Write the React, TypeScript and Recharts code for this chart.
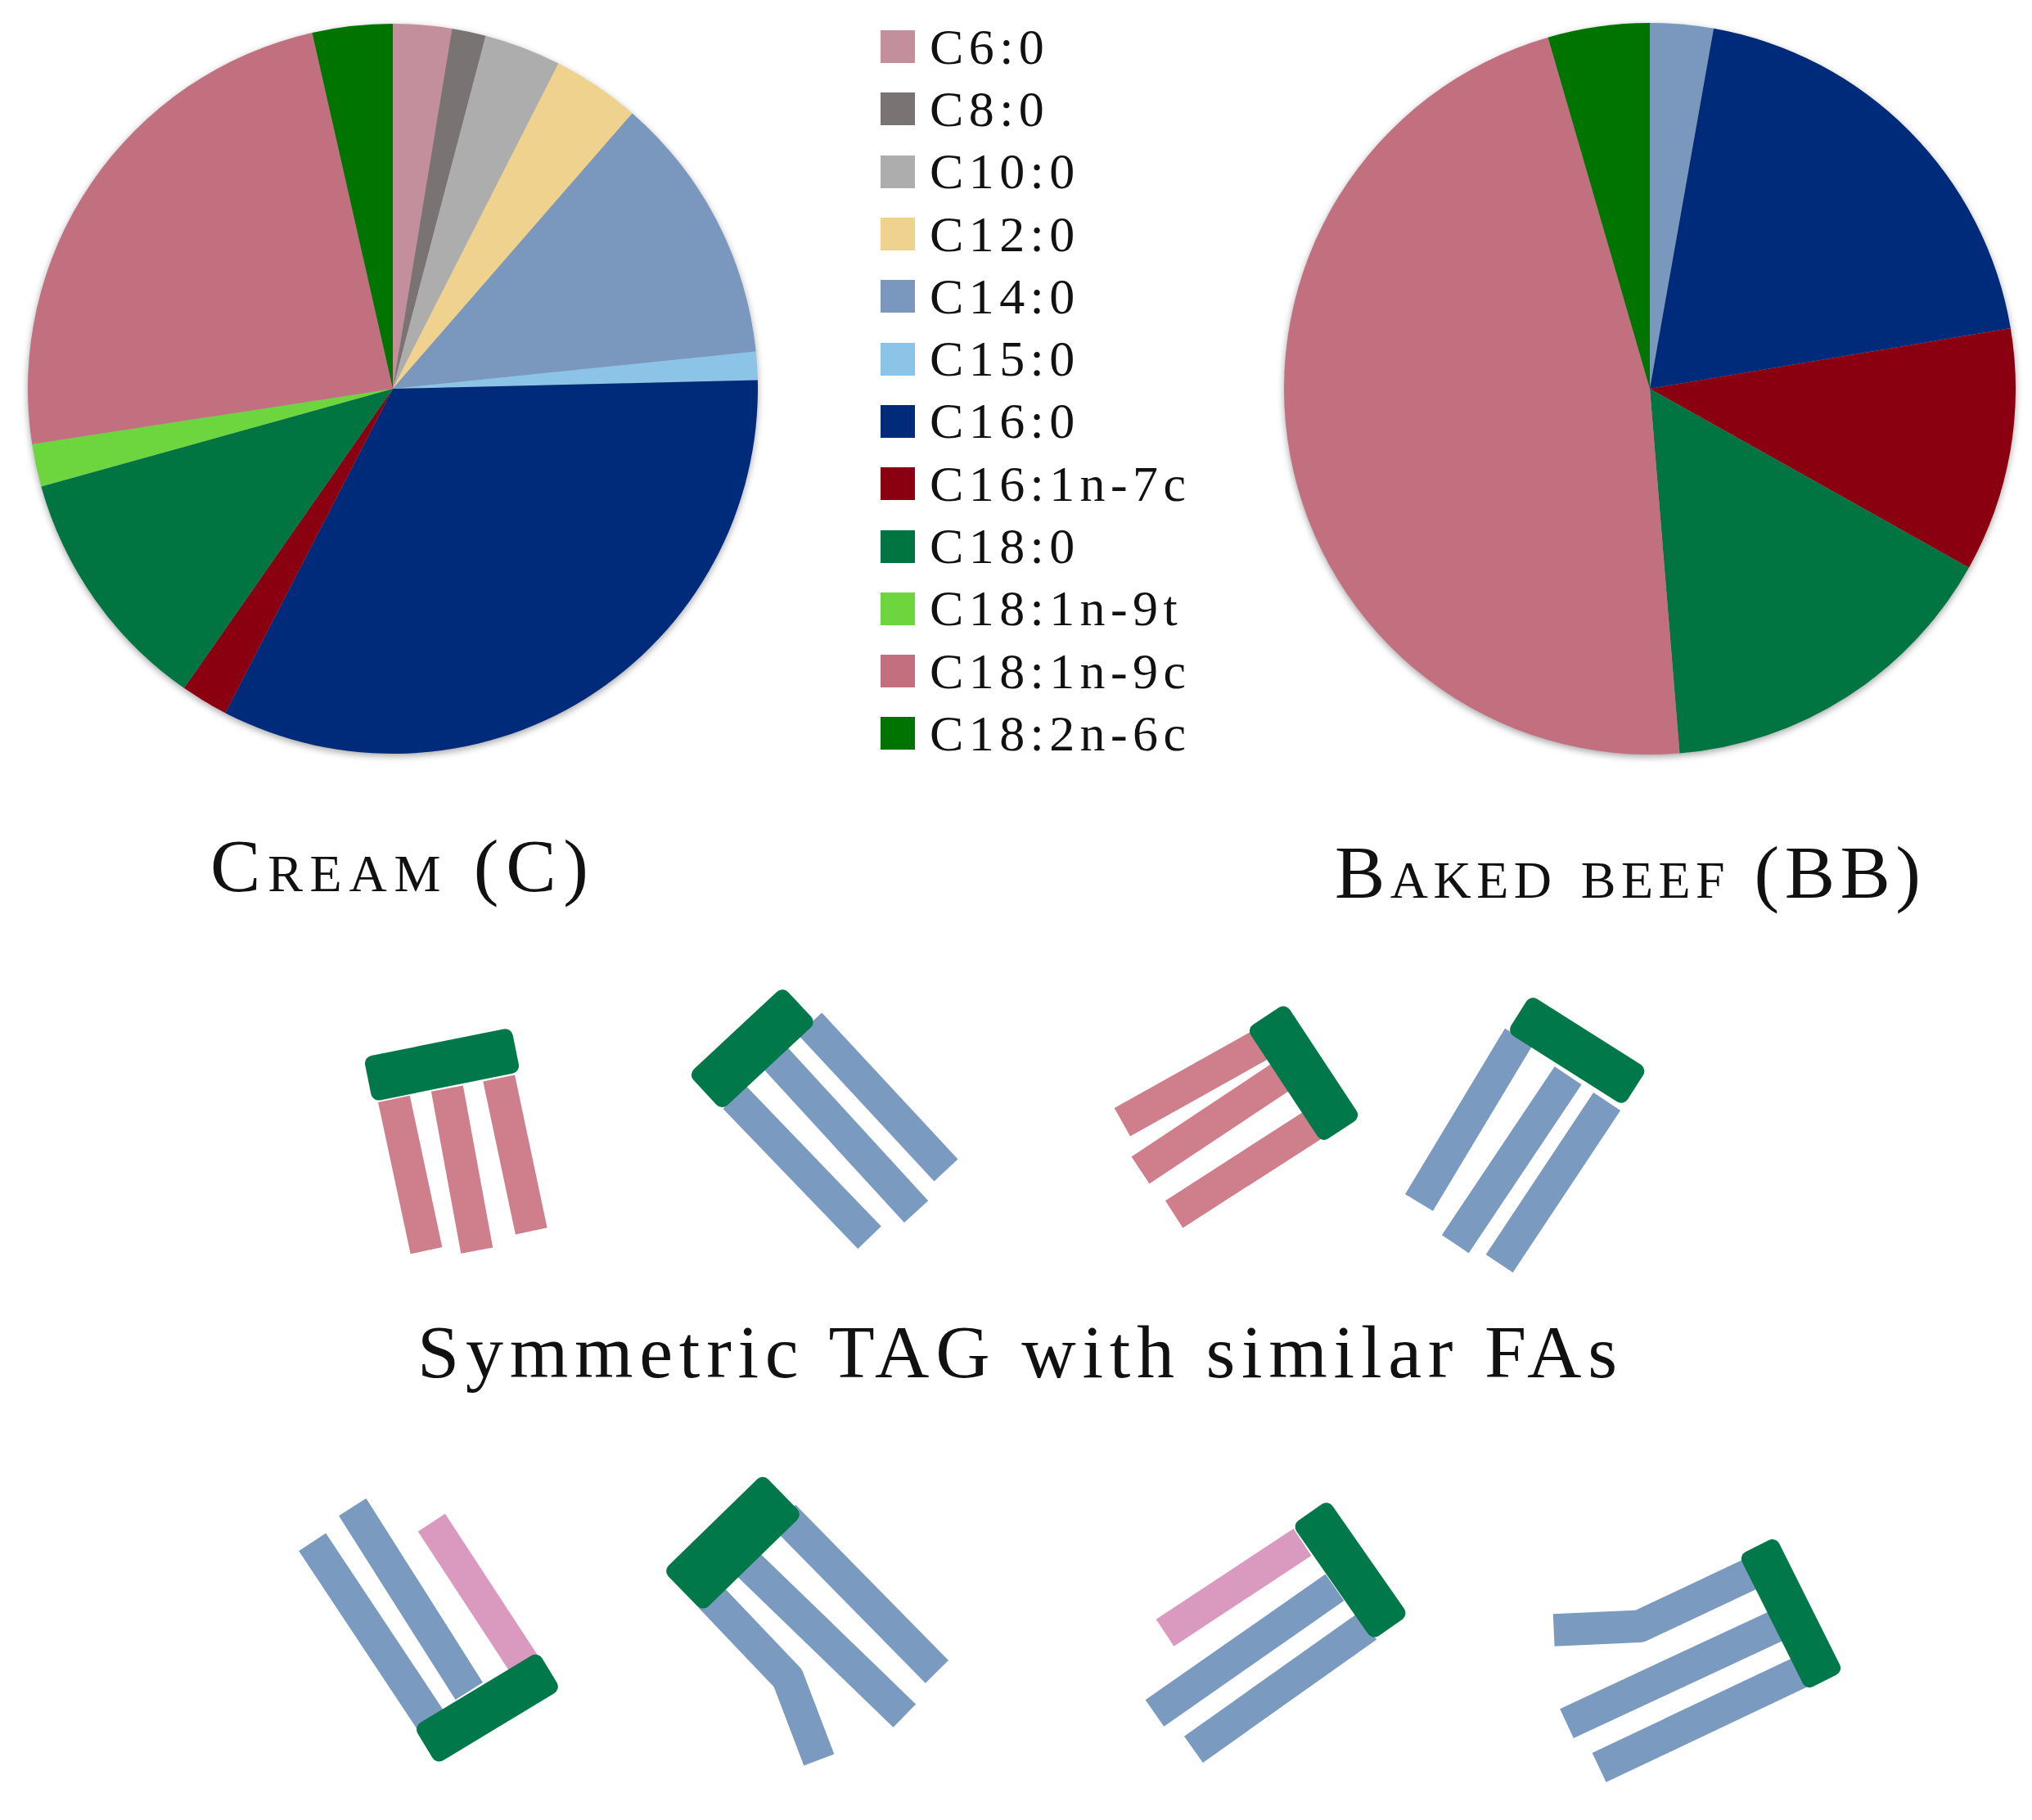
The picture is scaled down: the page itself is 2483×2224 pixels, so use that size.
import { Legend, Pie, PieChart } from "recharts";

const categories = [
  "C6:0",
  "C8:0",
  "C10:0",
  "C12:0",
  "C14:0",
  "C15:0",
  "C16:0",
  "C16:1n-7c",
  "C18:0",
  "C18:1n-9t",
  "C18:1n-9c",
  "C18:2n-6c",
];
const colors = [
  "#C48F9C",
  "#7A7373",
  "#ADADAD",
  "#F0D28F",
  "#7A97BE",
  "#8CC4E8",
  "#002B7A",
  "#8A0011",
  "#007542",
  "#6DD53E",
  "#C27080",
  "#007400",
];
const creamValues = [2.6, 1.5, 3.4, 3.9, 12.0, 1.25, 33.0, 2.1, 11.0, 1.9, 23.9, 3.55];
const beefValues = [0, 0, 0, 0, 2.8, 0, 19.6, 10.8, 15.6, 0, 46.9, 4.5];

const creamData = categories.map((name, i) => ({ name, value: creamValues[i], fill: colors[i] }));
const beefData = categories.map((name, i) => ({ name, value: beefValues[i], fill: colors[i] }));

const SERIF = "'Liberation Serif', serif";
const GREEN = "#00784A";
const BLUE = "#7A9ABF";
const ROSE = "#CF7F8C";
const PINK = "#DA9ABF";

// the pictograms were measured on a 1568px wide copy of the picture
const UNIT = 2483 / 1568;

function Head({ from, to, width }: { from: number[]; to: number[]; width: number }) {
  const dx = to[0] - from[0];
  const dy = to[1] - from[1];
  const length = Math.hypot(dx, dy);
  const angle = (Math.atan2(dy, dx) * 180) / Math.PI;
  return (
    <rect
      x={0}
      y={-width / 2}
      width={length}
      height={width}
      rx={6}
      fill={GREEN}
      transform={`translate(${from[0]} ${from[1]}) rotate(${angle})`}
    />
  );
}

function Tail({ points, color }: { points: number[][]; color: string }) {
  return (
    <polyline
      points={points.map((p) => p.join(",")).join(" ")}
      fill="none"
      stroke={color}
      strokeWidth={25}
      strokeLinejoin="round"
    />
  );
}

function Pictograms() {
  return (
    <g transform={`scale(${UNIT})`}>
      <Tail color={ROSE} points={[[304, 848], [329, 965]]} />
      <Tail color={ROSE} points={[[345, 840], [368, 965]]} />
      <Tail color={ROSE} points={[[385, 832], [410, 950]]} />
      <Head from={[284, 833]} to={[398, 810]} width={35} />

      <Tail color={BLUE} points={[[567, 847], [671, 955]]} />
      <Tail color={BLUE} points={[[597, 815], [707, 935]]} />
      <Tail color={BLUE} points={[[625, 790], [730, 903]]} />
      <Head from={[544, 843]} to={[617, 775]} width={38} />

      <Tail color={ROSE} points={[[975, 805], [866, 866]]} />
      <Tail color={ROSE} points={[[990, 830], [880, 903]]} />
      <Tail color={ROSE} points={[[1018, 865], [906, 937]]} />
      <Head from={[977, 784]} to={[1035, 872]} width={36} />

      <Tail color={BLUE} points={[[1172, 800], [1095, 928]]} />
      <Tail color={BLUE} points={[[1210, 830], [1123, 960]]} />
      <Tail color={BLUE} points={[[1240, 850], [1157, 975]]} />
      <Head from={[1172, 782]} to={[1262, 839]} width={34} />

      <Tail color={BLUE} points={[[241, 1190], [334, 1330]]} />
      <Tail color={BLUE} points={[[272, 1163], [362, 1305]]} />
      <Tail color={PINK} points={[[333, 1175], [405, 1285]]} />
      <Head from={[328, 1347]} to={[424, 1289]} width={34} />

      <Tail color={BLUE} points={[[605, 1170], [723, 1290]]} />
      <Tail color={BLUE} points={[[575, 1205], [698, 1324]]} />
      <Tail color={BLUE} points={[[548, 1232], [608, 1295], [632, 1358]]} />
      <Head from={[527, 1228]} to={[604, 1153]} width={44} />

      <Tail color={PINK} points={[[1005, 1190], [899, 1260]]} />
      <Tail color={BLUE} points={[[1030, 1225], [891, 1322]]} />
      <Tail color={BLUE} points={[[1055, 1255], [921, 1350]]} />
      <Head from={[1011, 1167]} to={[1073, 1256]} width={34} />

      <Tail color={BLUE} points={[[1350, 1215], [1265, 1255], [1199, 1258]]} />
      <Tail color={BLUE} points={[[1370, 1255], [1209, 1330]]} />
      <Tail color={BLUE} points={[[1390, 1290], [1234, 1364]]} />
      <Head from={[1356, 1193]} to={[1408, 1297]} width={32} />
    </g>
  );
}

function FattyAcidLegend() {
  return (
    <div style={{ fontFamily: SERIF }}>
      {categories.map((name, i) => (
        <div key={name} style={{ display: "flex", alignItems: "center", height: 76.3 }}>
          <span style={{ width: 42, height: 40, background: colors[i], marginRight: 18 }} />
          <span style={{ fontSize: 62, letterSpacing: 6.4, color: "#111" }}>{name}</span>
        </div>
      ))}
    </div>
  );
}

export default function App() {
  return (
    <div style={{ position: "absolute", left: 0, top: 0, background: "#fff" }}>
      <style>{`.recharts-pie { filter: drop-shadow(0 3px 4px rgba(0,0,0,0.35)); }`}</style>
      <PieChart width={2483} height={2224} margin={{ top: 0, right: 0, bottom: 0, left: 0 }}>
        <Pie
          data={creamData}
          dataKey="value"
          nameKey="name"
          cx={480}
          cy={475}
          outerRadius={446}
          startAngle={90}
          endAngle={-270}
          stroke="none"
          isAnimationActive={false}
        />
        <Pie
          data={beefData}
          dataKey="value"
          nameKey="name"
          cx={2016}
          cy={475}
          outerRadius={447}
          startAngle={90}
          endAngle={-270}
          stroke="none"
          isAnimationActive={false}
        />
        <Legend
          content={() => <FattyAcidLegend />}
          wrapperStyle={{ position: "absolute", left: 1076, top: 19, width: 420, bottom: "auto" }}
        />
        <text
          x={257}
          y={1089}
          textLength={462}
          fontFamily={SERIF}
          fontSize={92}
          fill="#111"
          style={{ fontVariant: "small-caps" }}
        >
          Cream (C)
        </text>
        <text
          x={1631}
          y={1097}
          textLength={716}
          fontFamily={SERIF}
          fontSize={92}
          fill="#111"
          style={{ fontVariant: "small-caps" }}
        >
          Baked beef (BB)
        </text>
        <text x={510} y={1683} textLength={1466} fontFamily={SERIF} fontSize={92} fill="#111">
          Symmetric TAG with similar FAs
        </text>
        <Pictograms />
      </PieChart>
    </div>
  );
}
